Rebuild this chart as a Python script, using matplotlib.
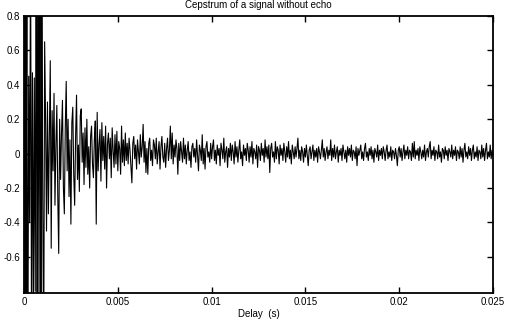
import numpy as np
import matplotlib
matplotlib.use("Agg")
import matplotlib.pyplot as plt

plt.rcParams['font.family'] = ['Liberation Sans', 'DejaVu Sans']
plt.rcParams['axes.unicode_minus'] = False

# Cepstrum values (in units of 0.01), sampled every 50 microseconds
seg_a = [-150, 180, -120, 95, -160, 45, -40, 130, -110, 47, -95, 44, -80, 150, -130,
         120, -100, 160, -140, 90, -30, -120, 65, 20, -45]
seg_b = [30, -35, 10, 54, -55, 25, -10, 35, -30, 5, 28, -25, -58, 20, -15, 12, 31, -20,
         -35, 15, 42, -10, 20, -25, 8, -41, 18, 27, -12, -30, 10, 34, -15, 5, -22, 22]
seg_c = [26, -5, 12, -18, 15, -8, 20, -12, 4, -20, 10, 16, -6, -14, 8, 19, -41, 24, -10,
         5, 14, -16, 18, -4, 10, -9, 16, -20, 6, 12, -3, 9, -14, 15, 2, -8, 11, -6, 13,
         -10, 7, 3, -12, 16, -5, 8, -7, 12, -4, 6]
seg_d = [-6, 9, 2, -8, -17, 6, 10, -3, 5, -9, 8, 1, -6, 11, -2, 4, 17, -5, 7, -11, 3,
         -12, 6, 9, -4, 2, -7, 8, 5, -3, 9, -6, 1, 7, -9, 4, 10, -2, -5, 6, -8, 3, 9, -4,
         2, 16, -3, 12, -6, 5, -2, 8, 3, -12, 6, -4, 7, 1, -5, 9]
seg_e = [-3, 5, -6, 2, 7, -4, 1, -8, 4, 6, -2, 3, -5, 8, -1, -10, 5, 2, -4, 11, -6, 3,
         -9, 4, 7, -2, 1, -5, 6, -3, 4, 8, -4, 2, -6, 5, -1, 3, -7, 6, 2, -3, 9, -5, 1, 4,
         -8, 3, -2, 6, -4, 5, 1, -6, 7, -2, 4, -5, 2, 8, -3, 1, -7, 5, -1, 3, -4, 6, 2,
         -5, 4, -2, 7, -6, 3, 1, -3, 5, -8, 4, 2, -4, 6, -1, 3, -5, 8, -2, 4, -3, 5, -11,
         3, 6, -2, 1, -5, 7, -3, 4, 2, -6, 5, -1, 3, -4, 6, 1, -5, 4, -2, 7, -3, 2, -6, 5,
         1, -3, 4, -2]
seg_f = [3, 9, -3, 2, -4, 4, 1, -5, 3, -2, 5, -1, -7, 2, 4, -3, 1, 5, -4, 2, -2, 3, -5,
         4, 1, -3, 2, 8, -2, 3, -4, 1, 4, -3, 2, -1, 8, -4, 3, -2, 5, -3, 1, 4, -5, 2, -1,
         3, -4, 5, 1, -3, 2, -5, 4, -1, 3, -2, 5, -4, 2, 1, -3, 4, -7, 3, -1, 2, 5, -3, 1,
         -4, 3, 6, -2, 1, -4, 3, -1, 4, -3, 2, -5, 3, 1, -2, 5, -4, 2, -1, 3, -3, 4, 1, -4,
         2, 5, -3, 1, -2, 4, -4, 2, 1, -3, 3, -1, -7, 2, 4, -2, 3, -4, 1, 5, -3, 2, -1, 4,
         -3, 2, 1, -4, 6, -2, 7, -3, 2, -1, 3, -4, 4, 1, -3, 2, -2, 5, -4, 1, 3, -2, 4, 7,
         -3, 2, -1, 4, -4, 2, 1, -3, 5, -2, 1, -5, 3, 2, -3, 4, -1, 2, -4, 3, 1, -2, 5, -3,
         2, -1, 4, -4, 2, 1, -3, 4, -2, 3, -5, 2, 6, -2, 1, -3, 4, -1, 3, -4, 2, 5, -3, 1,
         -2, 4, -4, 2, 1, -3, 5, -2, 3, -4, 2, 6, -3, 1, -2, 5, -3, 2, -1]

dt = 5e-5
x_ticks = [0, 0.005, 0.01, 0.015, 0.02, 0.025]
x_labels = ['0', '0.005', '0.01', '0.015', '0.02', '0.025']
y_ticks = [-0.6, -0.4, -0.2, 0, 0.2, 0.4, 0.6, 0.8]
y_labels = ['-0.6', '-0.4', '-0.2', '0', '0.2', '0.4', '0.6', '0.8']

cep = np.array(seg_a + seg_b + seg_c + seg_d + seg_e + seg_f, dtype=float) * 0.01
t = np.arange(len(cep)) * dt

fig = plt.figure(figsize=(5.14, 3.25), dpi=100)
ax = fig.add_axes([0.0467, 0.0985, 0.9125, 0.8523])
ax.plot(t, cep, color='black', linewidth=0.8)
ax.set_xlim(0, 0.025)
ax.set_ylim(-0.81, 0.8)
ax.set_xticks(x_ticks)
ax.set_xticklabels(x_labels)
ax.set_yticks(y_ticks)
ax.set_yticklabels(y_labels)
ax.tick_params(direction='in', length=4, width=1, labelsize=7, top=True, right=True,
               pad=3, colors='black')
for s in ax.spines.values():
    s.set_linewidth(1.3)
ax.set_xlabel('Delay  (s)', fontsize=7, labelpad=1)
ax.set_title('Cepstrum of a signal without echo', fontsize=7, pad=6)

fig.savefig('out.png', dpi=100)
